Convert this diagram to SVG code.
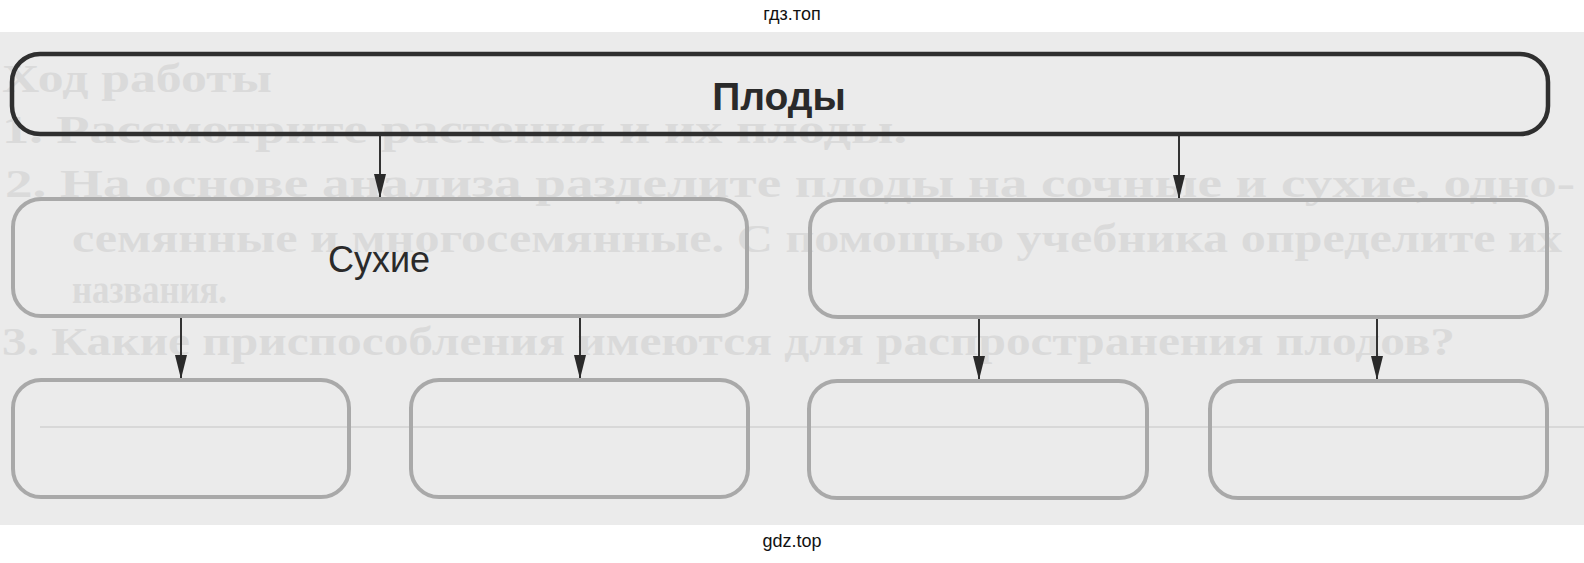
<svg xmlns="http://www.w3.org/2000/svg" width="1584" height="563" viewBox="0 0 1584 563">
<defs>
<style>
.ghost{font-family:"Liberation Serif","DejaVu Serif",serif;font-weight:bold;font-size:40px;fill:#dadada}
.wm{font-family:"Liberation Sans",Arial,sans-serif;font-size:18px;fill:#111;text-anchor:middle}
.top{fill:none;stroke:#2f2f2f;stroke-width:4.5}
.box{fill:none;stroke:#a9a9a9;stroke-width:4}
.conn{stroke:#333;stroke-width:2;fill:none;marker-end:url(#ah)}
.title{font-family:"Liberation Sans",Arial,sans-serif;font-weight:bold;font-size:39px;fill:#2a2a2a;text-anchor:middle}
.label{font-family:"Liberation Sans",Arial,sans-serif;font-size:36px;fill:#2a2a2a;text-anchor:middle}
</style>
<marker id="ah" viewBox="0 0 24 12" refX="24" refY="6" markerWidth="24" markerHeight="12" markerUnits="userSpaceOnUse" orient="auto">
<path d="M0,0 L24,6 L0,12 Z" fill="#2a2a2a"/>
</marker>
</defs>
<rect x="0" y="0" width="1584" height="563" fill="#ffffff"/>
<rect x="0" y="32" width="1584" height="493" fill="#ebebeb"/>
<line x1="40" y1="427" x2="1584" y2="427" stroke="#d8d8d8" stroke-width="2"/>
<g id="ghost-text">
<text class="ghost" x="2" y="92" textLength="270" lengthAdjust="spacingAndGlyphs">Ход работы</text>
<text class="ghost" x="2" y="143" textLength="905" lengthAdjust="spacingAndGlyphs">1. Рассмотрите растения и их плоды.</text>
<text class="ghost" x="5" y="197" textLength="1570" lengthAdjust="spacingAndGlyphs">2. На основе анализа разделите плоды на сочные и сухие, одно-</text>
<text class="ghost" x="72" y="252" textLength="1490" lengthAdjust="spacingAndGlyphs">семянные и многосемянные. С помощью учебника определите их</text>
<text class="ghost" x="72" y="303" textLength="155" lengthAdjust="spacingAndGlyphs">названия.</text>
<text class="ghost" x="2" y="355" textLength="1453" lengthAdjust="spacingAndGlyphs">3. Какие приспособления имеются для распространения плодов?</text>
</g>
<text class="wm" x="792" y="20">гдз.топ</text>
<text class="wm" x="792" y="547">gdz.top</text>
<g id="connectors">
<line class="conn" x1="380" y1="135" x2="380" y2="198"/>
<line class="conn" x1="1179" y1="135" x2="1179" y2="199"/>
<line class="conn" x1="181" y1="317" x2="181" y2="379"/>
<line class="conn" x1="580" y1="317" x2="580" y2="379"/>
<line class="conn" x1="979" y1="317" x2="979" y2="380"/>
<line class="conn" x1="1377" y1="317" x2="1377" y2="380"/>
</g>
<g id="node-plody">
<rect class="top" x="12" y="54" width="1536" height="80" rx="28" ry="28"/>
<text class="title" x="779" y="110">Плоды</text>
</g>
<g id="node-sukhie">
<rect class="box" x="13" y="199" width="734" height="117" rx="28" ry="28"/>
<text class="label" x="379" y="272">Сухие</text>
</g>
<g id="node-right">
<rect class="box" x="810" y="200" width="737" height="117" rx="28" ry="28"/>
</g>
<g id="node-b1">
<rect class="box" x="13" y="380" width="336" height="117" rx="28" ry="28"/>
</g>
<g id="node-b2">
<rect class="box" x="411" y="380" width="337" height="117" rx="28" ry="28"/>
</g>
<g id="node-b3">
<rect class="box" x="809" y="381" width="338" height="117" rx="28" ry="28"/>
</g>
<g id="node-b4">
<rect class="box" x="1210" y="381" width="337" height="117" rx="28" ry="28"/>
</g>
</svg>
